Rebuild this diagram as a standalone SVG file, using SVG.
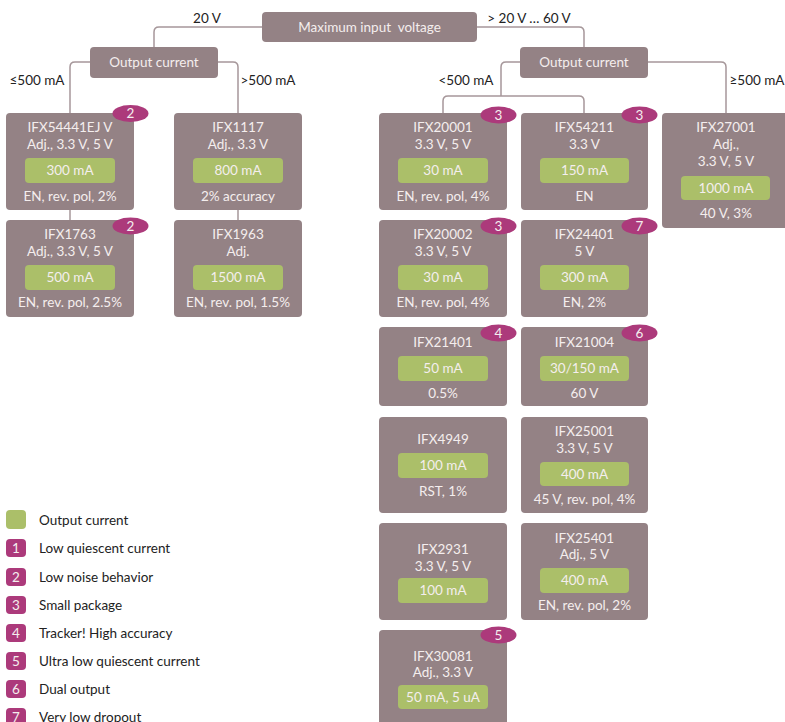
<svg xmlns="http://www.w3.org/2000/svg" width="785" height="722" viewBox="0 0 785 722">
<style>
text{font-family:Lato,"Open Sans","Liberation Sans",sans-serif;font-size:13.5px}
.box{fill:#948285}
.pill{fill:#abbf69}
.bd{fill:#ac3a7b}
.t{fill:#f4eeee;text-anchor:middle}
.lbl{fill:#222;text-anchor:middle}
.lg{fill:#222}
.con{fill:none;stroke:#a6979a;stroke-width:1.5}
</style>
<rect width="785" height="722" fill="#fff"/>
<g id="connectors" class="con">
<path d="M262,27 H159 Q154,27 154,32 V47"/>
<path d="M477,27 H579 Q584,27 584,32 V47"/>
<path d="M90,62 H75 Q70,62 70,67 V113"/>
<path d="M218,62 H233 Q238,62 238,67 V113"/>
<path d="M70,210 V220"/>
<path d="M238,210 V220"/>
<path d="M648,62 H721 Q726,62 726,67 V113"/>
<path d="M520,62 H506 Q501,62 501,67 V96"/>
<path d="M443,113 V101 Q443,96 448,96 H579 Q584,96 584,101 V113"/>
</g>
<g id="labels">
<text class="lbl" x="207" y="22.5">20 V</text>
<text class="lbl" x="529" y="22.5">&gt; 20 V … 60 V</text>
<text class="lbl" x="37" y="84.5">≤500 mA</text>
<text class="lbl" x="268" y="84.5">&gt;500 mA</text>
<text class="lbl" x="466" y="84.5">&lt;500 mA</text>
<text class="lbl" x="757" y="84.5">≥500 mA</text>
</g>
<g id="max-input">
<rect class="box" x="262" y="12" width="215" height="30" rx="4"/>
<text class="t" x="369.5" y="31.5" style="white-space:pre">Maximum input  voltage</text>
</g>
<g id="oc-left">
<rect class="box" x="90" y="47" width="128" height="31" rx="4"/>
<text class="t" x="154" y="66.5">Output current</text>
</g>
<g id="oc-right">
<rect class="box" x="520" y="47" width="128" height="31" rx="4"/>
<text class="t" x="584" y="66.5">Output current</text>
</g>

<g id="IFX54441EJ">
<rect class="box" x="6" y="113" width="128" height="97" rx="4"/>
<text class="t" x="70" y="131.5">IFX54441EJ V</text>
<text class="t" x="70" y="148.5">Adj., 3.3 V, 5 V</text>
<rect class="pill" x="25" y="158" width="90" height="25" rx="4"/>
<text class="t" x="70" y="175">300 mA</text>
<text class="t" x="70" y="200.5">EN, rev. pol, 2%</text>
<ellipse class="bd" cx="130.5" cy="113.5" rx="18" ry="8.5"/>
<text class="t" x="130.5" y="118">2</text>
</g>
<g id="IFX1117">
<rect class="box" x="174" y="113" width="128" height="97" rx="4"/>
<text class="t" x="238" y="131.5">IFX1117</text>
<text class="t" x="238" y="148.5">Adj., 3.3 V</text>
<rect class="pill" x="193" y="158" width="90" height="25" rx="4"/>
<text class="t" x="238" y="175">800 mA</text>
<text class="t" x="238" y="200.5">2% accuracy</text>
</g>
<g id="IFX1763">
<rect class="box" x="6" y="220" width="128" height="97" rx="4"/>
<text class="t" x="70" y="238.5">IFX1763</text>
<text class="t" x="70" y="255.5">Adj., 3.3 V, 5 V</text>
<rect class="pill" x="25" y="265" width="90" height="25" rx="4"/>
<text class="t" x="70" y="282">500 mA</text>
<text class="t" x="70" y="307">EN, rev. pol, 2.5%</text>
<ellipse class="bd" cx="130.5" cy="226" rx="18" ry="8.5"/>
<text class="t" x="130.5" y="230.5">2</text>
</g>
<g id="IFX1963">
<rect class="box" x="174" y="220" width="128" height="97" rx="4"/>
<text class="t" x="238" y="238.5">IFX1963</text>
<text class="t" x="238" y="255.5">Adj.</text>
<rect class="pill" x="193" y="265" width="90" height="25" rx="4"/>
<text class="t" x="238" y="282">1500 mA</text>
<text class="t" x="238" y="307">EN, rev. pol, 1.5%</text>
</g>

<g id="IFX20001">
<rect class="box" x="379" y="113" width="128" height="97" rx="4"/>
<text class="t" x="443" y="131.5">IFX20001</text>
<text class="t" x="443" y="148.5">3.3 V, 5 V</text>
<rect class="pill" x="398" y="158" width="90" height="25" rx="4"/>
<text class="t" x="443" y="175">30 mA</text>
<text class="t" x="443" y="200.5">EN, rev. pol, 4%</text>
<ellipse class="bd" cx="498.5" cy="115" rx="18" ry="8.5"/>
<text class="t" x="498.5" y="119.5">3</text>
</g>
<g id="IFX54211">
<rect class="box" x="521" y="113" width="127" height="97" rx="4"/>
<text class="t" x="584.5" y="131.5">IFX54211</text>
<text class="t" x="584.5" y="148.5">3.3 V</text>
<rect class="pill" x="540" y="158" width="89" height="25" rx="4"/>
<text class="t" x="584.5" y="175">150 mA</text>
<text class="t" x="584.5" y="200.5">EN</text>
<ellipse class="bd" cx="639.5" cy="115" rx="18" ry="8.5"/>
<text class="t" x="639.5" y="119.5">3</text>
</g>
<g id="IFX27001">
<rect class="box" x="662" y="113" width="128" height="115" rx="4"/>
<text class="t" x="726" y="131.5">IFX27001</text>
<text class="t" x="726" y="148.5">Adj.,</text>
<text class="t" x="726" y="166">3.3 V, 5 V</text>
<rect class="pill" x="681" y="176" width="89" height="24" rx="4"/>
<text class="t" x="726" y="192.5">1000 mA</text>
<text class="t" x="726" y="217.5">40 V, 3%</text>
</g>
<g id="IFX20002">
<rect class="box" x="379" y="220" width="128" height="97" rx="4"/>
<text class="t" x="443" y="238.5">IFX20002</text>
<text class="t" x="443" y="255.5">3.3 V, 5 V</text>
<rect class="pill" x="398" y="265" width="90" height="25" rx="4"/>
<text class="t" x="443" y="282">30 mA</text>
<text class="t" x="443" y="307">EN, rev. pol, 4%</text>
<ellipse class="bd" cx="498.5" cy="226" rx="18" ry="8.5"/>
<text class="t" x="498.5" y="230.5">3</text>
</g>
<g id="IFX24401">
<rect class="box" x="521" y="220" width="127" height="97" rx="4"/>
<text class="t" x="584.5" y="238.5">IFX24401</text>
<text class="t" x="584.5" y="255.5">5 V</text>
<rect class="pill" x="540" y="265" width="89" height="25" rx="4"/>
<text class="t" x="584.5" y="282">300 mA</text>
<text class="t" x="584.5" y="307">EN, 2%</text>
<ellipse class="bd" cx="639.5" cy="226" rx="18" ry="8.5"/>
<text class="t" x="639.5" y="230.5">7</text>
</g>
<g id="IFX21401">
<rect class="box" x="379" y="327" width="128" height="79" rx="4"/>
<text class="t" x="443" y="346.5">IFX21401</text>
<rect class="pill" x="398" y="356" width="90" height="25" rx="4"/>
<text class="t" x="443" y="373">50 mA</text>
<text class="t" x="443" y="397.5">0.5%</text>
<ellipse class="bd" cx="498.5" cy="333" rx="18" ry="8.5"/>
<text class="t" x="498.5" y="337.5">4</text>
</g>
<g id="IFX21004">
<rect class="box" x="521" y="327" width="127" height="79" rx="4"/>
<text class="t" x="584.5" y="346.5">IFX21004</text>
<rect class="pill" x="540" y="356" width="89" height="25" rx="4"/>
<text class="t" x="584.5" y="373">30/150 mA</text>
<text class="t" x="584.5" y="397.5">60 V</text>
<ellipse class="bd" cx="639.5" cy="333" rx="18" ry="8.5"/>
<text class="t" x="639.5" y="337.5">6</text>
</g>
<g id="IFX4949">
<rect class="box" x="379" y="417" width="128" height="96" rx="4"/>
<text class="t" x="443" y="443.5">IFX4949</text>
<rect class="pill" x="398" y="453" width="90" height="25" rx="4"/>
<text class="t" x="443" y="470">100 mA</text>
<text class="t" x="443" y="495.5">RST, 1%</text>
</g>
<g id="IFX25001">
<rect class="box" x="521" y="417" width="127" height="96" rx="4"/>
<text class="t" x="584.5" y="435.5">IFX25001</text>
<text class="t" x="584.5" y="452.5">3.3 V, 5 V</text>
<rect class="pill" x="540" y="462" width="89" height="24" rx="4"/>
<text class="t" x="584.5" y="478.5">400 mA</text>
<text class="t" x="584.5" y="503.5">45 V, rev. pol, 4%</text>
</g>
<g id="IFX2931">
<rect class="box" x="379" y="523" width="128" height="97" rx="4"/>
<text class="t" x="443" y="553.5">IFX2931</text>
<text class="t" x="443" y="571">3.3 V, 5 V</text>
<rect class="pill" x="398" y="578" width="90" height="25" rx="4"/>
<text class="t" x="443" y="595">100 mA</text>
</g>
<g id="IFX25401">
<rect class="box" x="521" y="523" width="127" height="97" rx="4"/>
<text class="t" x="584.5" y="542.5">IFX25401</text>
<text class="t" x="584.5" y="558.5">Adj., 5 V</text>
<rect class="pill" x="540" y="568" width="89" height="25" rx="4"/>
<text class="t" x="584.5" y="585">400 mA</text>
<text class="t" x="584.5" y="609.5">EN, rev. pol, 2%</text>
</g>
<g id="IFX30081">
<rect class="box" x="379" y="630" width="128" height="100" rx="4"/>
<text class="t" x="443" y="660.5">IFX30081</text>
<text class="t" x="443" y="676.5">Adj., 3.3 V</text>
<rect class="pill" x="398" y="685" width="90" height="24" rx="4"/>
<text class="t" x="443" y="701.5">50 mA, 5 uA</text>
<ellipse class="bd" cx="498.5" cy="635" rx="18" ry="8.5"/>
<text class="t" x="498.5" y="639.5">5</text>
</g>

<g id="legend">
<rect class="pill" x="6" y="510" width="20" height="19" rx="4"/>
<text class="lg" x="39" y="525">Output current</text>
<rect class="bd" x="6" y="539" width="20" height="18" rx="4"/>
<text class="t" x="16" y="552.5">1</text>
<text class="lg" x="39" y="553">Low quiescent current</text>
<rect class="bd" x="6" y="568" width="20" height="18" rx="4"/>
<text class="t" x="16" y="581.5">2</text>
<text class="lg" x="39" y="581.5">Low noise behavior</text>
<rect class="bd" x="6" y="596" width="20" height="18" rx="4"/>
<text class="t" x="16" y="609.5">3</text>
<text class="lg" x="39" y="610">Small package</text>
<rect class="bd" x="6" y="624" width="20" height="18" rx="4"/>
<text class="t" x="16" y="637.5">4</text>
<text class="lg" x="39" y="638">Tracker! High accuracy</text>
<rect class="bd" x="6" y="652" width="20" height="18" rx="4"/>
<text class="t" x="16" y="665.5">5</text>
<text class="lg" x="39" y="666">Ultra low quiescent current</text>
<rect class="bd" x="6" y="680" width="20" height="18" rx="4"/>
<text class="t" x="16" y="693.5">6</text>
<text class="lg" x="39" y="694">Dual output</text>
<rect class="bd" x="6" y="708" width="20" height="18" rx="4"/>
<text class="t" x="16" y="721.5">7</text>
<text class="lg" x="39" y="722">Very low dropout</text>
</g>
</svg>
